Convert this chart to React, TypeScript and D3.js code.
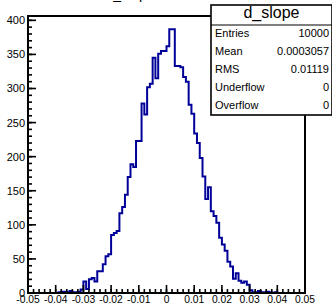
import React from "react";
import * as d3 from "d3";

const W = 332;
const H = 306;

// histogram definition: 100 bins from -0.05 to 0.05
const xMin = -0.05;
const xMax = 0.05;
const binCounts = [
  0, 0, 0, 0, 0, 0, 0, 0, 0, 0,
  0, 1, 2, 2, 1, 3, 1, 1, 2, 5,
  17, 6, 20, 22, 17, 32, 32, 42, 54, 57,
  85, 88, 91, 117, 126, 144, 170, 189, 185, 223,
  223, 278, 262, 302, 307, 345, 315, 351, 355, 355,
  362, 387, 387, 333, 333, 331, 317, 310, 276, 263,
  234, 220, 198, 171, 138, 155, 120, 113, 103, 81,
  71, 62, 46, 39, 21, 29, 18, 15, 17, 12,
  4, 1, 1, 3, 1, 1, 2, 1, 0, 1,
  0, 0, 0, 0, 0, 0, 0, 0, 0, 0,
];

const yTickValues = [0, 50, 100, 150, 200, 250, 300, 350, 400];
const xTickValues = [-0.05, -0.04, -0.03, -0.02, -0.01, 0, 0.01, 0.02, 0.03, 0.04, 0.05];
const xTickLabels = ["-0.05", "-0.04", "-0.03", "-0.02", "-0.01", "0", "0.01", "0.02", "0.03", "0.04", "0.05"];

const histTitle = "d_slope";
const statNames = ["Entries", "Mean", "RMS", "Underflow", "Overflow"];
const statValues = ["10000", "0.0003057", "0.01119", "0", "0"];

const FONT = "'Liberation Sans', Arial, Helvetica, sans-serif";

export default function App() {
  const frame = { left: 28, top: 16, right: 305, bottom: 293 };
  const nBins = binCounts.length;
  const binW = (xMax - xMin) / nBins;
  const yMax = 1.05 * (d3.max(binCounts) as number);

  const x = d3.scaleLinear().domain([xMin, xMax]).range([frame.left, frame.right]);
  const y = d3.scaleLinear().domain([0, yMax]).range([frame.bottom, frame.top]);

  const pts: [number, number][] = [];
  binCounts.forEach((v, i) => {
    const lo = xMin + i * binW;
    const hi = lo + binW;
    pts.push([x(lo), y(v)]);
    pts.push([x(hi), y(v)]);
  });
  const histPath = d3.line()(pts) as string;

  const yMinor = d3.range(0, yMax, 10);
  const xMinor = d3.range(0, 51).map((k) => xMin + k * 0.002);

  const box = { x: 211, y: 5, w: 121, h: 110, titleH: 20 };
  const rowH = (box.h - box.titleH) / statNames.length;

  return (
    <svg
      width={W}
      height={H}
      style={{ position: "absolute", left: 0, top: 0, background: "#fff" }}
      fontFamily={FONT}
    >
      <rect x={0} y={0} width={W} height={H} fill="#fff" />
      {/* title (mostly outside the canvas) */}
      <text x={130} y={-1.5} fontSize={14} textAnchor="middle" fill="#000">
        {histTitle}
      </text>

      {/* histogram */}
      <path d={histPath} fill="none" stroke="#000099" strokeWidth={2} />

      {/* frame */}
      <rect
        x={frame.left}
        y={frame.top}
        width={frame.right - frame.left}
        height={frame.bottom - frame.top}
        fill="none"
        stroke="#000"
        strokeWidth={2}
      />

      {/* y ticks */}
      {yMinor.map((v) => (
        <line key={"ym" + v} x1={frame.left} x2={frame.left + 4} y1={y(v)} y2={y(v)} stroke="#000" strokeWidth={1.6} />
      ))}
      {yTickValues.map((v) => (
        <g key={"y" + v}>
          <line x1={frame.left} x2={frame.left + 8} y1={y(v)} y2={y(v)} stroke="#000" strokeWidth={1.6} />
          <text x={frame.left - 3} y={y(v)} dy="0.36em" fontSize={11} textAnchor="end" fill="#000">
            {v}
          </text>
        </g>
      ))}

      {/* x ticks */}
      {xMinor.map((v, i) => (
        <line key={"xm" + i} x1={x(v)} x2={x(v)} y1={frame.bottom} y2={frame.bottom - 4} stroke="#000" strokeWidth={1.6} />
      ))}
      {xTickValues.map((v, i) => (
        <g key={"x" + i}>
          <line x1={x(v)} x2={x(v)} y1={frame.bottom} y2={frame.bottom - 8} stroke="#000" strokeWidth={1.6} />
          <text x={x(v)} y={303} fontSize={10.3} textAnchor="middle" fill="#000">
            {xTickLabels[i]}
          </text>
        </g>
      ))}

      {/* stats box */}
      <rect x={box.x} y={box.y} width={box.w} height={box.h} fill="#fff" stroke="#000" strokeWidth={1.6} />
      <line x1={box.x} x2={box.x + box.w} y1={box.y + box.titleH} y2={box.y + box.titleH} stroke="#000" strokeWidth={1.2} />
      <text x={box.x + box.w / 2} y={box.y + 12.5} fontSize={16} textAnchor="middle" fill="#000">
        {histTitle}
      </text>
      {statNames.map((n, i) => (
        <g key={n}>
          <text x={box.x + 4} y={box.y + box.titleH + rowH * i + 12} fontSize={11} fill="#000">
            {n}
          </text>
          <text x={box.x + box.w - 3} y={box.y + box.titleH + rowH * i + 12} fontSize={11} textAnchor="end" fill="#000">
            {statValues[i]}
          </text>
        </g>
      ))}
    </svg>
  );
}
